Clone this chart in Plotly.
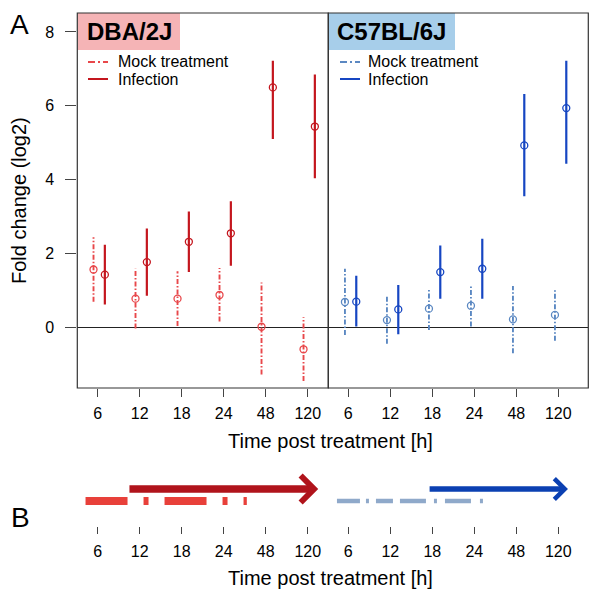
import numpy as np
import plotly.graph_objects as go

# page body has an 8px margin, so the figure is 8px smaller than the window
OFF = 8
W, H = 600 - OFF, 605 - OFF

times = ['6', '12', '18', '24', '48', '120']

# Panel A, DBA/2J
dba_mock_mean = [1.57, 0.78, 0.78, 0.88, 0.02, -0.59]
dba_mock_low = [0.70, -0.03, 0.04, 0.16, -1.27, -1.45]
dba_mock_high = [2.44, 1.59, 1.52, 1.61, 1.22, 0.28]
dba_inf_mean = [1.43, 1.77, 2.32, 2.55, 6.50, 5.44]
dba_inf_low = [0.62, 0.86, 1.50, 1.67, 5.10, 4.04]
dba_inf_high = [2.24, 2.68, 3.14, 3.42, 7.22, 6.85]

# Panel A, C57BL/6J
c57_mock_mean = [0.69, 0.20, 0.51, 0.59, 0.22, 0.34]
c57_mock_low = [-0.20, -0.44, -0.07, 0.03, -0.70, -0.36]
c57_mock_high = [1.59, 0.83, 1.07, 1.16, 1.12, 1.05]
c57_inf_mean = [0.70, 0.49, 1.50, 1.59, 4.93, 5.94]
c57_inf_low = [0.03, -0.18, 0.78, 0.78, 3.55, 4.43]
c57_inf_high = [1.40, 1.15, 2.22, 2.40, 6.32, 7.22]

# Panel B: extent of each response along the time points (index units)
dba_mock_span = [0.71, 4.55]
dba_inf_span = [1.72, 6.25]
c57_mock_span = [0.73, 4.23]
c57_inf_span = [2.90, 6.23]

RED_MOCK = '#E8474A'
RED_INF = '#C4161E'
BLUE_MOCK = '#5B88C2'
BLUE_INF = '#1646C2'
FONT = 'Liberation Sans, Arial, sans-serif'

pos = np.arange(1, len(times) + 1)


# positions below are given in window pixels
def px_x(v):
    return (v - OFF) / W


def px_y(v):
    return 1 - (v - OFF) / H


def segs(x, lo, hi):
    xs, ys = [], []
    for xi, a, b in zip(x, lo, hi):
        xs += [xi, xi, None]
        ys += [a, b, None]
    return xs, ys


fig = go.Figure()


def add_series(xa, off, mean, lo, hi, color, dash, lw):
    x = pos + off
    xs, ys = segs(x, lo, hi)
    fig.add_trace(go.Scatter(x=xs, y=ys, mode='lines', xaxis=xa, yaxis='y',
                             line=dict(color=color, width=lw, dash=dash),
                             showlegend=False, hoverinfo='skip'))
    fig.add_trace(go.Scatter(x=x, y=mean, mode='markers', xaxis=xa, yaxis='y',
                             marker=dict(symbol='circle-open', size=7, color=color,
                                         line=dict(width=1.3, color=color)),
                             showlegend=False))


MOCK_DASH = '5px,2px,1.5px,2px'
add_series('x', -0.1, dba_mock_mean, dba_mock_low, dba_mock_high, RED_MOCK, MOCK_DASH, 1.9)
add_series('x', 0.17, dba_inf_mean, dba_inf_low, dba_inf_high, RED_INF, 'solid', 2.2)
add_series('x2', -0.08, c57_mock_mean, c57_mock_low, c57_mock_high, BLUE_MOCK, MOCK_DASH, 1.9)
add_series('x2', 0.19, c57_inf_mean, c57_inf_low, c57_inf_high, BLUE_INF, 'solid', 2.2)

# panel B dashed mock bars
fig.add_trace(go.Scatter(x=dba_mock_span, y=[0, 0], mode='lines', xaxis='x3', yaxis='y3',
                         line=dict(color='#E8403A', width=8, dash='42px,16px,5px,16px'),
                         showlegend=False, hoverinfo='skip'))
fig.add_trace(go.Scatter(x=c57_mock_span, y=[0, 0], mode='lines', xaxis='x4', yaxis='y3',
                         line=dict(color='#8FA9CA', width=4.5,
                                   dash='23px,6px,3px,7px,17px,7px,26px,8px,3px,8px,26px,9px,3px'),
                         showlegend=False, hoverinfo='skip'))

XL = [77.3, 328.3, 588.3]
TOP, BOT = 13, 388

tick_common = dict(ticks='outside', tickcolor='#444', tickwidth=1, showgrid=False,
                   zeroline=False, showline=False, tickvals=list(pos), ticktext=times,
                   tickfont=dict(family=FONT, size=16, color='black'))

fig.update_layout(
    width=W, height=H, margin=dict(l=0, r=0, t=0, b=0),
    paper_bgcolor='white', plot_bgcolor='white', showlegend=False,
    font=dict(family=FONT, color='black'),
    xaxis=dict(domain=[px_x(XL[0]), px_x(XL[1])], range=[0.514, 6.49], anchor='y',
               ticklen=8, ticklabelstandoff=3, **tick_common),
    xaxis2=dict(domain=[px_x(XL[1]), px_x(XL[2])], range=[0.524, 6.714], anchor='y',
                ticklen=8, ticklabelstandoff=3, **tick_common),
    yaxis=dict(domain=[px_y(BOT), px_y(TOP)], range=[-1.638, 8.514], anchor='x',
               tickvals=[0, 2, 4, 6, 8], ticks='outside', ticklen=11, tickcolor='#444',
               ticklabelstandoff=8, showgrid=False, showline=False,
               zeroline=True, zerolinecolor='#222', zerolinewidth=1,
               tickfont=dict(family=FONT, size=16, color='black')),
    xaxis3=dict(domain=[px_x(XL[0]), px_x(XL[1])], range=[0.514, 6.49], anchor='y3',
                ticklen=7, ticklabelstandoff=4, **tick_common),
    xaxis4=dict(domain=[px_x(XL[1]), px_x(XL[2])], range=[0.524, 6.714], anchor='y3',
                ticklen=7, ticklabelstandoff=4, **tick_common),
    yaxis3=dict(domain=[px_y(526), px_y(470)], range=[-2.083, 2.583], visible=False,
                anchor='x3'),
)

shapes = [
    dict(type='rect', xref='paper', yref='paper', x0=px_x(78), x1=px_x(180),
         y0=px_y(50), y1=px_y(TOP), fillcolor='#F5B4B6', line=dict(width=0), layer='below'),
    dict(type='rect', xref='paper', yref='paper', x0=px_x(328.3), x1=px_x(455),
         y0=px_y(50), y1=px_y(TOP), fillcolor='#A7CEEA', line=dict(width=0), layer='below'),
]
for a, b in [(XL[0], XL[1]), (XL[1], XL[2])]:
    shapes.append(dict(type='rect', xref='paper', yref='paper', x0=px_x(a), x1=px_x(b),
                       y0=px_y(BOT), y1=px_y(TOP), line=dict(color='#333', width=1.2)))

# legend samples
for lx, cm, ci in [(88, RED_MOCK, RED_INF), (340, BLUE_MOCK, BLUE_INF)]:
    shapes.append(dict(type='line', xref='paper', yref='paper', x0=px_x(lx), x1=px_x(lx + 20),
                       y0=px_y(62), y1=px_y(62), line=dict(color=cm, width=2, dash='7px,3px,2px,3px')))
    shapes.append(dict(type='line', xref='paper', yref='paper', x0=px_x(lx), x1=px_x(lx + 20),
                       y0=px_y(79), y1=px_y(79), line=dict(color=ci, width=2)))
fig.update_layout(shapes=shapes)

ann = []


def text(x, y, s, size, xanchor='left', bold=False, angle=0):
    ann.append(dict(xref='paper', yref='paper', x=px_x(x), y=px_y(y), text=f'<b>{s}</b>' if bold else s,
                    showarrow=False, xanchor=xanchor, yanchor='middle', textangle=angle,
                    font=dict(family=FONT, size=size, color='black'), borderpad=0))


text(86, 32, 'DBA/2J', 24, bold=True)
text(336, 32, 'C57BL/6J', 24, bold=True)
text(117, 62, 'Mock treatment', 16)
text(117, 79, 'Infection', 16)
text(367, 62, 'Mock treatment', 16)
text(367, 79, 'Infection', 16)
text(19, 25, 'A', 28, xanchor='center')
text(20, 517, 'B', 28, xanchor='center')
text(19, 201, 'Fold change (log2)', 20, xanchor='center', angle=-90)
text(330, 441, 'Time post treatment [h]', 20, xanchor='center')
text(330, 578, 'Time post treatment [h]', 20, xanchor='center')

# panel B arrows, drawn on the time axes
for xa, span, color, width, size in [('x3', dba_inf_span, '#B0131B', 7.5, 0.69),
                                     ('x4', c57_inf_span, '#0B40B2', 5.5, 0.73)]:
    ann.append(dict(xref=xa, yref='y3', axref=xa, ayref='y3', x=span[1], y=1,
                    ax=span[0], ay=1, text='', showarrow=True, arrowhead=4,
                    arrowsize=size, arrowwidth=width, arrowcolor=color, standoff=0))

fig.update_layout(annotations=ann)

fig.write_html('out.html')
